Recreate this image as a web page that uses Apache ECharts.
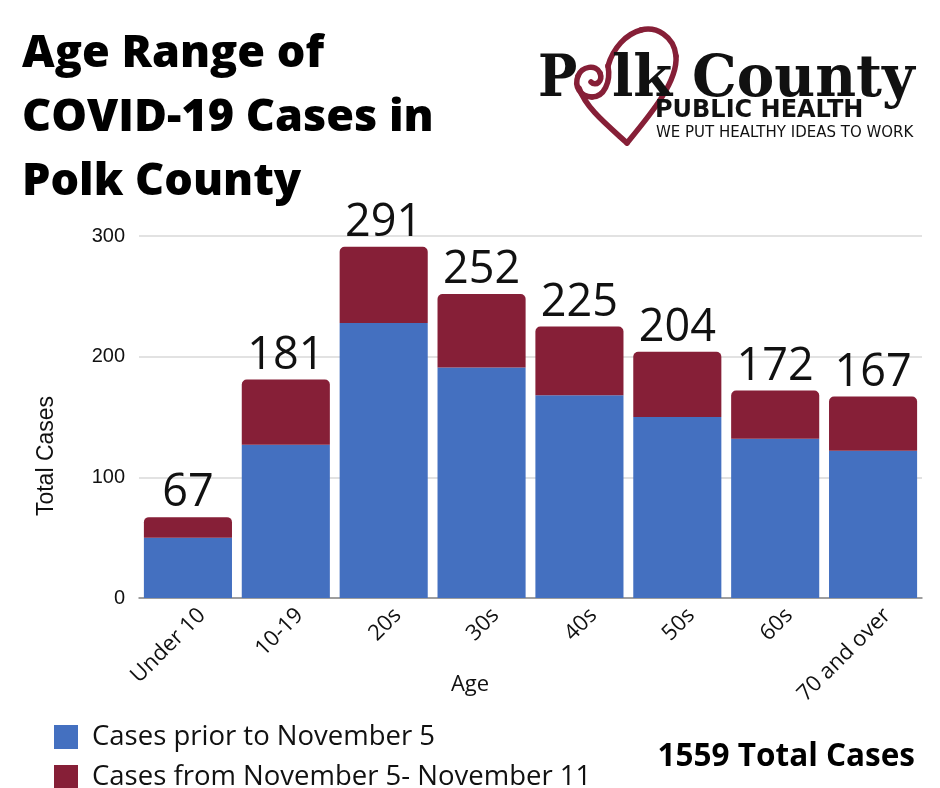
<!DOCTYPE html>
<html>
<head>
<meta charset="utf-8">
<title>Age Range of COVID-19 Cases in Polk County</title>
<script src="https://cdn.jsdelivr.net/npm/echarts@6/dist/echarts.min.js"></script>
<style>
  html, body { margin: 0; padding: 0; background: #fff; }
  #chart { width: 940px; height: 788px; }
</style>
</head>
<body>
<div id="chart"></div>
<script>
const ages = ['Under 10', '10-19', '20s', '30s', '40s', '50s', '60s', '70 and over'];
const priorCases = [50, 127, 228, 191, 168, 150, 132, 122];
const newCases = [17, 54, 63, 61, 57, 54, 40, 45];
const totals = [67, 181, 291, 252, 225, 204, 172, 167];
const yTicks = [0, 100, 200, 300];
const totalAll = 1559;

const blue = '#4470c0';
const red = '#861f37';

// heart swirl of the logo, drawn as cubic curves
function curve(x1, y1, cpx1, cpy1, cpx2, cpy2, x2, y2) {
  return {
    type: 'bezierCurve',
    shape: { x1, y1, cpx1, cpy1, cpx2, cpy2, x2, y2 },
    style: { fill: null, stroke: red, lineWidth: 5.5, lineCap: 'round' }
  };
}

function createChartConfig() {
  return {
    animation: false,
    grid: [
      { left: 139, right: 18, top: 236, bottom: 190 },
      // same bands shifted right, only used to place the rotated age labels
      { left: 153, right: 4, top: 236, bottom: 190 }
    ],
    legend: {
      orient: 'vertical',
      left: 49,
      top: 718,
      height: 70,
      icon: 'rect',
      itemWidth: 24,
      itemHeight: 24,
      itemGap: 12,
      textStyle: {
        fontFamily: 'Open Sans',
        fontSize: 27.5,
        lineHeight: 24,
        color: '#111',
        padding: [0, 0, 0, 9]
      },
      data: ['Cases prior to November 5', 'Cases from November 5- November 11']
    },
    xAxis: [
      {
        type: 'category',
        data: ages,
        axisLine: { lineStyle: { color: '#888', width: 1.5 } },
        axisTick: { show: false },
        axisLabel: { show: false }
      },
      {
        type: 'category',
        gridIndex: 1,
        data: ages,
        axisLine: { show: false },
        axisTick: { show: false },
        splitLine: { show: false },
        axisLabel: {
          rotate: 45,
          fontFamily: 'Open Sans',
          fontSize: 22,
          color: '#111',
          margin: 14
        }
      }
    ],
    yAxis: [
      {
        type: 'value',
        min: yTicks[0],
        max: yTicks[yTicks.length - 1],
        interval: 100,
        axisLabel: {
          fontFamily: 'Liberation Sans',
          fontSize: 20,
          color: '#111',
          margin: 14
        },
        splitLine: { lineStyle: { color: '#d9d9d9', width: 1.5 } }
      },
      { type: 'value', gridIndex: 1, show: false, splitLine: { show: false } }
    ],
    series: [
      {
        name: 'Cases prior to November 5',
        type: 'bar',
        stack: 'cases',
        data: priorCases,
        barCategoryGap: '10%',
        itemStyle: { color: blue }
      },
      {
        name: 'Cases from November 5- November 11',
        type: 'bar',
        stack: 'cases',
        data: newCases,
        itemStyle: { color: red, borderRadius: [5, 5, 0, 0] },
        label: {
          show: true,
          position: 'top',
          distance: 1,
          fontFamily: 'Open Sans',
          fontSize: 45,
          color: '#111',
          formatter: p => totals[p.dataIndex]
        }
      }
    ],
    graphic: [
      {
        type: 'text',
        left: 22,
        top: 22,
        style: {
          text: 'Age Range of\nCOVID-19 Cases in\nPolk County',
          font: '800 45px "Open Sans"',
          lineHeight: 64,
          fill: '#000'
        }
      },
      {
        type: 'text',
        right: 25,
        top: 741,
        style: {
          text: totalAll + ' Total Cases',
          font: 'bold 31.5px "Open Sans"',
          fill: '#000'
        }
      },
      // axis titles
      {
        type: 'text',
        x: 47,
        y: 456,
        rotation: Math.PI / 2,
        style: {
          text: 'Total Cases',
          font: '23px "Liberation Sans"',
          fill: '#111',
          align: 'center',
          verticalAlign: 'middle'
        }
      },
      {
        type: 'text',
        x: 470,
        y: 685,
        style: {
          text: 'Age',
          font: '22px "Open Sans"',
          fill: '#111',
          align: 'center',
          verticalAlign: 'middle'
        }
      },
      // logo: heart first, letters over it
      curve(627, 143, 650, 115, 678, 82, 676, 56),
      curve(676, 56, 674, 36, 656, 26, 641, 30),
      curve(641, 30, 626, 34, 613, 48, 608, 66),
      curve(608, 66, 611, 82, 604, 97, 592, 97),
      curve(592, 97, 580, 97, 574, 86, 578, 76),
      curve(578, 76, 582, 66, 596, 64, 600, 73),
      curve(600, 73, 603, 81, 596, 87, 591, 82),
      curve(627, 143, 606, 124, 586, 108, 579, 88),
      {
        type: 'text',
        x: 538,
        y: 52,
        scaleX: 0.9,
        style: { text: 'P', font: 'bold 58px "DejaVu Serif"', fill: '#111' }
      },
      {
        type: 'text',
        x: 612,
        y: 52,
        scaleX: 0.97,
        style: { text: 'lk County', font: 'bold 58px "DejaVu Serif"', fill: '#111' }
      },
      {
        type: 'text',
        left: 655,
        top: 99,
        style: { text: 'PUBLIC HEALTH', font: 'bold 24px "DejaVu Sans"', fill: '#111' }
      },
      {
        type: 'text',
        left: 656,
        top: 126,
        style: { text: 'WE PUT HEALTHY IDEAS TO WORK', font: '15px "DejaVu Sans"', fill: '#111' }
      }
    ]
  };
}

const chart = echarts.init(document.getElementById('chart'));
chart.setOption(createChartConfig());
</script>
</body>
</html>
